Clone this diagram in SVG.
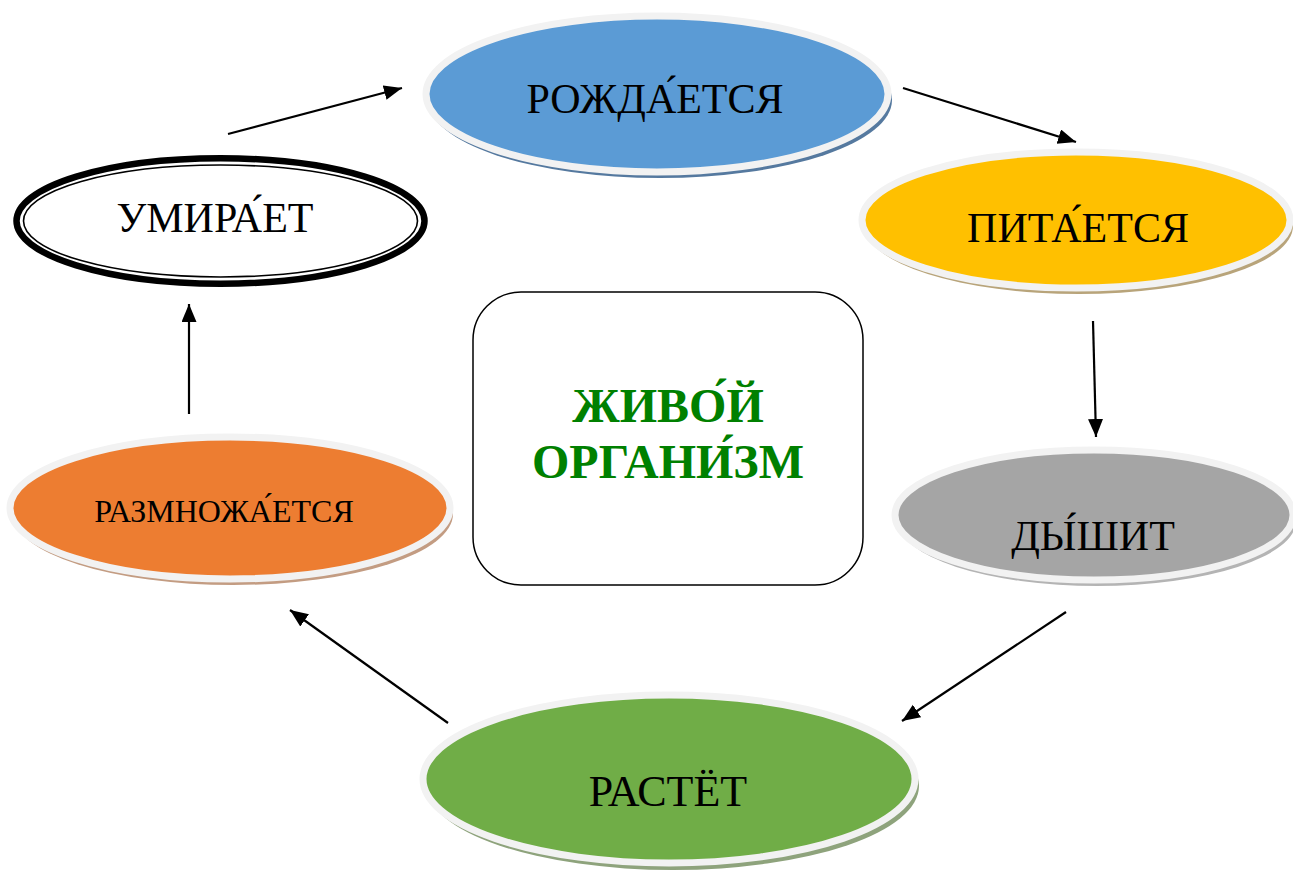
<svg xmlns="http://www.w3.org/2000/svg" width="1293" height="875" viewBox="0 0 1293 875">
<defs>
<style>
.lbl{font-family:"Liberation Serif","Times New Roman",serif;font-size:42px;fill:#000;text-anchor:middle}
.small{font-size:32px}
.big{font-size:44px}
.ring{stroke:#f2f2f2;stroke-width:7}
.conn line{stroke:#000;stroke-width:2.2;marker-end:url(#arr)}
.center{font-family:"Liberation Serif","Times New Roman",serif;font-size:48px;font-weight:bold;fill:#008000;text-anchor:middle}
</style>
<marker id="arr" markerUnits="userSpaceOnUse" markerWidth="19" markerHeight="16" refX="18" refY="7.5" orient="auto">
<path d="M0,0 L18,7.5 L0,15 z" fill="#000"/>
</marker>
</defs>
<rect width="1293" height="875" fill="#fff"/>

<g id="node-rozhdaetsya">
<ellipse cx="660" cy="100" rx="232" ry="78" fill="#55799f"/>
<ellipse cx="657" cy="94" rx="231" ry="78" fill="#5b9bd5" class="ring"/>
<text x="655" y="113" class="lbl">РОЖДА́ЕТСЯ</text>
</g>

<g id="node-pitaetsya">
<ellipse cx="1079" cy="226" rx="214" ry="68" fill="#b8a47a"/>
<ellipse cx="1076" cy="220" rx="214" ry="68" fill="#ffc000" class="ring"/>
<text x="1078" y="242" class="lbl">ПИТА́ЕТСЯ</text>
</g>

<g id="node-dyshit">
<ellipse cx="1097" cy="521" rx="199" ry="65" fill="#b4b4b4"/>
<ellipse cx="1094" cy="515" rx="199" ry="65" fill="#a5a5a5" class="ring"/>
<text x="1093" y="550" class="lbl">ДЫ́ШИТ</text>
</g>

<g id="node-rastyot">
<ellipse cx="673" cy="786" rx="246" ry="84" fill="#8ea37c"/>
<ellipse cx="669" cy="779" rx="246" ry="84" fill="#70ad47" class="ring"/>
<text x="668" y="806" class="lbl big">РАСТЁТ</text>
</g>

<g id="node-razmnozhaetsya">
<ellipse cx="233" cy="514" rx="220" ry="71" fill="#c39c82"/>
<ellipse cx="230" cy="508" rx="220" ry="71" fill="#ed7d31" class="ring"/>
<text x="224" y="522" class="lbl small">РАЗМНОЖА́ЕТСЯ</text>
</g>

<g id="node-umiraet">
<ellipse cx="220.5" cy="221" rx="204" ry="62.7" fill="#fff" stroke="#000" stroke-width="6.5"/>
<ellipse cx="220.5" cy="221" rx="197" ry="56" fill="none" stroke="#000" stroke-width="1.6"/>
<text x="215" y="232" class="lbl">УМИРА́ЕТ</text>
</g>

<g id="node-center">
<rect x="473" y="292" width="390" height="293" rx="48" ry="48" fill="#fff" stroke="#000" stroke-width="1.5"/>
<text x="668" y="422" class="center">ЖИВО́Й</text>
<text x="668" y="478" class="center">ОРГАНИ́ЗМ</text>
</g>

<g id="connectors" class="conn">
<line x1="228" y1="134" x2="402" y2="88"/>
<line x1="903" y1="88" x2="1076" y2="142"/>
<line x1="1093" y1="321" x2="1096" y2="437"/>
<line x1="1066" y1="612" x2="902" y2="721"/>
<line x1="448" y1="723" x2="290" y2="610"/>
<line x1="189" y1="414" x2="189" y2="304"/>
</g>
</svg>
